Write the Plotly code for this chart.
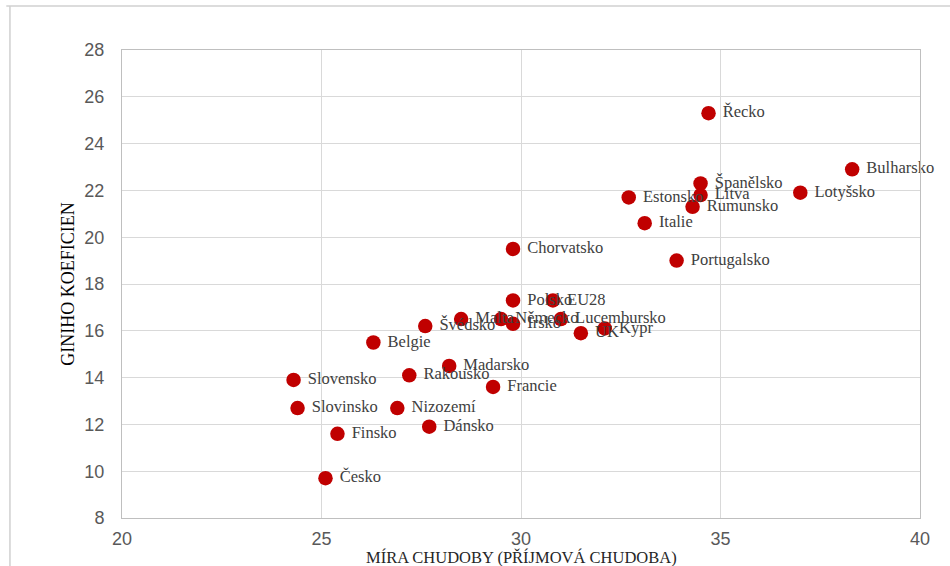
import plotly.graph_objects as go

countries = ["Řecko", "Bulharsko", "Lotyšsko", "Španělsko", "Litva", "Rumunsko", "Estonsko",
             "Italie", "Portugalsko", "Chorvatsko", "Polsko", "EU28", "Malta", "Německo",
             "Irsko", "Lucembursko", "Kypr", "UK", "Švédsko", "Belgie", "Madarsko",
             "Rakousko", "Francie", "Slovensko", "Slovinsko", "Nizozemí", "Dánsko",
             "Finsko", "Česko"]
poverty = [34.7, 38.3, 37.0, 34.5, 34.5, 34.3, 32.7,
           33.1, 33.9, 29.8, 29.8, 30.8, 28.5, 29.5,
           29.8, 31.0, 32.1, 31.5, 27.6, 26.3, 28.2,
           27.2, 29.3, 24.3, 24.4, 26.9, 27.7,
           25.4, 25.1]
gini = [25.3, 22.9, 21.9, 22.3, 21.8, 21.3, 21.7,
        20.6, 19.0, 19.5, 17.3, 17.3, 16.5, 16.5,
        16.3, 16.5, 16.1, 15.9, 16.2, 15.5, 14.5,
        14.1, 13.6, 13.9, 12.7, 12.7, 11.9,
        11.6, 9.7]

x_ticks = [20, 25, 30, 35, 40]
y_ticks = [8, 10, 12, 14, 16, 18, 20, 22, 24, 26, 28]

labels = [" " + c for c in countries]

fig = go.Figure()
fig.add_trace(go.Scatter(
    x=poverty, y=gini, text=labels, mode="markers+text",
    textposition="middle right",
    marker=dict(size=14.5, color="#C00000"),
    textfont=dict(family="Liberation Serif", size=16.5, color="#404040"),
    cliponaxis=False, showlegend=False, hoverinfo="skip",
))

fig.update_layout(
    width=950, height=566,
    margin=dict(l=122, r=30, t=50, b=48),
    paper_bgcolor="white", plot_bgcolor="white",
    xaxis=dict(range=[20, 40], tickvals=x_ticks, showgrid=True, gridcolor="#d9d9d9",
               gridwidth=1, zeroline=False, showline=True, linecolor="#bfbfbf", mirror=True,
               ticks="", ticklabelstandoff=4,
               tickfont=dict(family="Liberation Sans", size=18, color="#595959")),
    yaxis=dict(range=[8, 28], tickvals=y_ticks, showgrid=True, gridcolor="#d9d9d9",
               gridwidth=1, zeroline=False, showline=True, linecolor="#bfbfbf", mirror=True,
               ticks="", ticklabelstandoff=13,
               tickfont=dict(family="Liberation Sans", size=18, color="#595959")),
)

# axis titles
fig.add_annotation(text="MÍRA CHUDOBY (PŘÍJMOVÁ CHUDOBA)", xref="paper", yref="paper",
                   x=0.5, y=-0.084, xanchor="center", yanchor="middle", showarrow=False,
                   font=dict(family="Liberation Serif", size=16.5, color="#262626"))
fig.add_annotation(text="GINIHO KOEFICIEN", xref="paper", yref="paper",
                   x=-0.068, y=0.5, xanchor="center", yanchor="middle", showarrow=False,
                   textangle=-90,
                   font=dict(family="Liberation Serif", size=18, color="#000000"))

# outer frame of the embedded chart
fig.add_shape(type="line", xref="paper", yref="paper", x0=-0.145, x1=1.1, y0=1.094, y1=1.094,
              line=dict(color="#d0d0d0", width=1.5))
fig.add_shape(type="line", xref="paper", yref="paper", x0=-0.1404, x1=-0.1404, y0=-0.11, y1=1.094,
              line=dict(color="#d0d0d0", width=1.5))

fig.write_html("out.html", config={"displayModeBar": False},
               post_script="document.body.style.margin='0';")
